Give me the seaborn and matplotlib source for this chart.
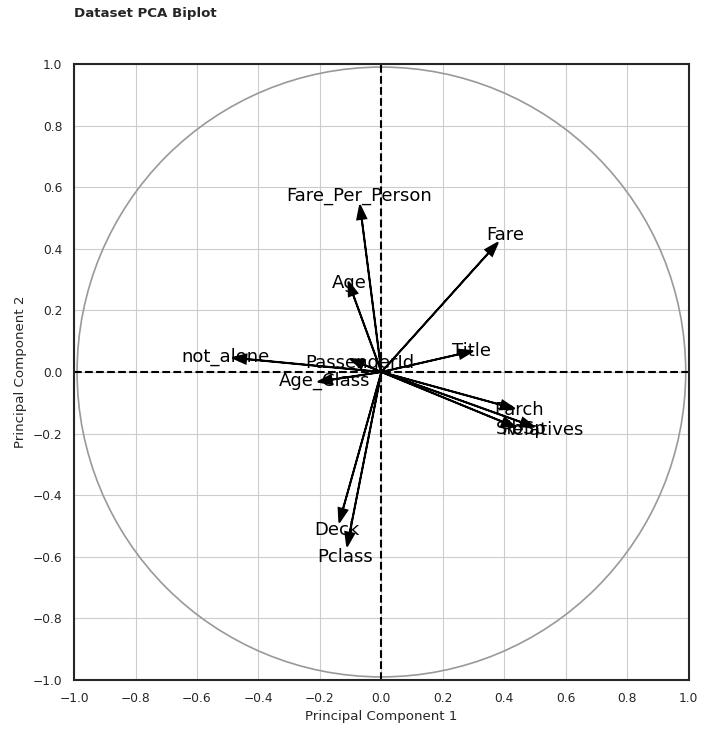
import seaborn as sns
import matplotlib.pyplot as plt
import pandas as pd

# PCA loadings (PC1, PC2) per feature
features = ["Fare", "Fare_Per_Person", "Age", "not_alone", "PassengerId",
            "Age_Class", "Title", "Parch", "SibSp", "Relatives", "Deck", "Pclass"]
pc1 = [0.349, -0.064, -0.092, -0.44, -0.06, -0.162, 0.254, 0.39, 0.395, 0.455, -0.125, -0.103]
pc2 = [0.387, 0.497, 0.251, 0.042, 0.025, -0.025, 0.058, -0.107, -0.162, -0.163, -0.445, -0.522]

loadings = pd.DataFrame({"feature": features, "PC1": pc1, "PC2": pc2})

sns.set_theme(style="whitegrid", context="paper")

fig, ax = plt.subplots(figsize=(7.05, 7.34), dpi=100)
fig.subplots_adjust(left=0.105, right=0.977, top=0.9128, bottom=0.0736)

# draw the loading vectors
for _, row in loadings.iterrows():
    ax.arrow(0, 0, row["PC1"], row["PC2"], color="black", head_width=0.03,
             head_length=0.045, linewidth=1.3)
    ax.text(row["PC1"] * 1.15, row["PC2"] * 1.15, row["feature"],
            ha="center", va="center", fontsize=13, color="black")

# unit circle and reference lines
circle = plt.Circle((0, 0), 0.99, fill=False, color="#999999", linewidth=1.2)
ax.add_patch(circle)
ax.axhline(0, color="black", linestyle="--", linewidth=1.5)
ax.axvline(0, color="black", linestyle="--", linewidth=1.5)

ax.set_xlim(-1, 1)
ax.set_ylim(-1, 1)
ax.set_xticks([i / 5 for i in range(-5, 6)])
ax.set_yticks([i / 5 for i in range(-5, 6)])
ax.set_xlabel("Principal Component 1")
ax.set_ylabel("Principal Component 2")
for spine in ax.spines.values():
    spine.set_color("#262626")
    spine.set_linewidth(1.5)

fig.text(0.105, 0.981, "Dataset PCA Biplot", ha="left", va="center",
         fontweight="bold", fontsize=9.6)

plt.savefig("out.png", dpi=100)
plt.close()
